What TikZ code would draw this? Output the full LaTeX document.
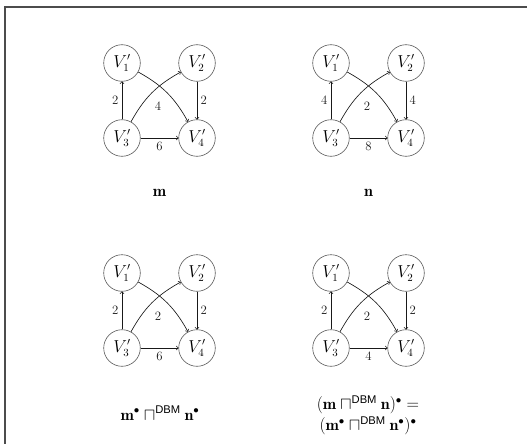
\documentclass[tikz,border=0pt]{standalone}
\usepackage{amsmath}
\usepackage{fontspec}
\newfontfamily\libsans{Liberation Sans}
\newcommand\dbm{\text{\libsans DBM}}
\newcommand\dbmgraph[6]{%
\begin{scope}[shift={#6}]
\node[vtx] (#1a) at (0,0) {$V_1'$};
\node[vtx] (#1b) at (75,0) {$V_2'$};
\node[vtx] (#1c) at (0,75) {$V_3'$};
\node[vtx] (#1d) at (75,75) {$V_4'$};
\draw[edge] (#1c) -- node[lab,left]{#2} (#1a);
\draw[edge] (#1b) -- node[lab,right]{#3} (#1d);
\draw[edge] (#1c) -- node[lab,below]{#4} (#1d);
\draw[edge] (#1c) to[bend left=16] (#1b);
\draw[edge] (#1a) to[bend left=16] (#1d);
\node[lab] (#1x) at (36,43) {#5};
\end{scope}}
\begin{document}
\begin{tikzpicture}[x=1pt,y=-1pt,
  vtx/.style={circle, draw=black!65, line width=0.6pt, minimum size=36.6pt, inner sep=0pt, font=\fontsize{16}{19}\selectfont},
  edge/.style={->, draw=black!90, line width=0.65pt},
  lab/.style={font=\fontsize{12.8}{15}\selectfont, text=black!90},
  captxt/.style={font=\fontsize{16}{20}\selectfont, align=center}]
\useasboundingbox (0,0) rectangle (527,444);
\draw[black!70, line width=1.5pt] (5,444) -- (5,7) -- (527,7);
\dbmgraph{m}{2}{2}{6}{4}{(122,63)}
\dbmgraph{n}{4}{4}{8}{2}{(331,63)}
\dbmgraph{p}{2}{2}{6}{2}{(122,273)}
\dbmgraph{q}{2}{2}{4}{2}{(331,273)}
\node[captxt] (capm) at (159.5,193) {$\mathbf{m}$};
\node[captxt] (capn) at (368.5,193) {$\mathbf{n}$};
\node[captxt, anchor=base] (capp) at (160,420) {$\mathbf{m}^\bullet \sqcap^{\dbm} \mathbf{n}^\bullet$};
\node[captxt] (capq) at (368,415) {$(\mathbf{m} \sqcap^{\dbm} \mathbf{n})^\bullet =$\\[1pt]$(\mathbf{m}^\bullet \sqcap^{\dbm} \mathbf{n}^\bullet)^\bullet$};
\end{tikzpicture}
\end{document}
